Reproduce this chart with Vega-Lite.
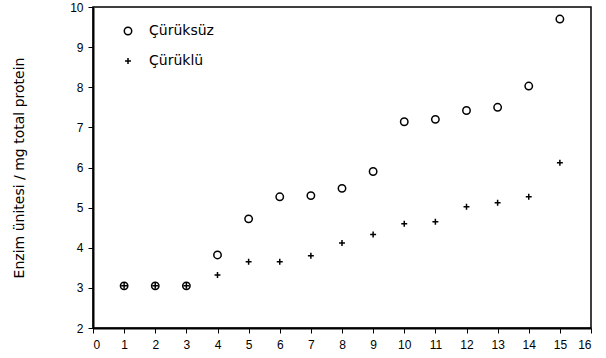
{
  "$schema": "https://vega.github.io/schema/vega-lite/v6.json",
  "width": 498,
  "height": 321,
  "autosize": {"type": "none"},
  "padding": {"left": 93, "top": 7, "right": 15, "bottom": 30},
  "background": "white",
  "config": {
    "view": {"stroke": "black", "strokeWidth": 1.5},
    "font": "Liberation Sans",
    "axis": {
      "grid": false,
      "domainColor": "black",
      "domainWidth": 2,
      "tickColor": "black",
      "tickSize": 5,
      "tickWidth": 1,
      "labelColor": "black",
      "labelFontSize": 12,
      "labelFont": "Liberation Sans",
      "titleColor": "black",
      "titleFont": "DejaVu Sans",
      "titleFontWeight": "normal"
    }
  },
  "data": {
    "values": [
      {"x": 1, "y": 3.05, "grup": "Çürüksüz"},
      {"x": 2, "y": 3.05, "grup": "Çürüksüz"},
      {"x": 3, "y": 3.05, "grup": "Çürüksüz"},
      {"x": 4, "y": 3.82, "grup": "Çürüksüz"},
      {"x": 5, "y": 4.72, "grup": "Çürüksüz"},
      {"x": 6, "y": 5.27, "grup": "Çürüksüz"},
      {"x": 7, "y": 5.3, "grup": "Çürüksüz"},
      {"x": 8, "y": 5.48, "grup": "Çürüksüz"},
      {"x": 9, "y": 5.9, "grup": "Çürüksüz"},
      {"x": 10, "y": 7.14, "grup": "Çürüksüz"},
      {"x": 11, "y": 7.2, "grup": "Çürüksüz"},
      {"x": 12, "y": 7.42, "grup": "Çürüksüz"},
      {"x": 13, "y": 7.5, "grup": "Çürüksüz"},
      {"x": 14, "y": 8.03, "grup": "Çürüksüz"},
      {"x": 15, "y": 9.7, "grup": "Çürüksüz"},
      {"x": 1, "y": 3.05, "grup": "Çürüklü"},
      {"x": 2, "y": 3.05, "grup": "Çürüklü"},
      {"x": 3, "y": 3.05, "grup": "Çürüklü"},
      {"x": 4, "y": 3.32, "grup": "Çürüklü"},
      {"x": 5, "y": 3.65, "grup": "Çürüklü"},
      {"x": 6, "y": 3.65, "grup": "Çürüklü"},
      {"x": 7, "y": 3.8, "grup": "Çürüklü"},
      {"x": 8, "y": 4.12, "grup": "Çürüklü"},
      {"x": 9, "y": 4.33, "grup": "Çürüklü"},
      {"x": 10, "y": 4.6, "grup": "Çürüklü"},
      {"x": 11, "y": 4.65, "grup": "Çürüklü"},
      {"x": 12, "y": 5.02, "grup": "Çürüklü"},
      {"x": 13, "y": 5.12, "grup": "Çürüklü"},
      {"x": 14, "y": 5.27, "grup": "Çürüklü"},
      {"x": 15, "y": 6.12, "grup": "Çürüklü"}
    ]
  },
  "mark": {"type": "point", "filled": false, "stroke": "black", "strokeWidth": 1.5, "size": 55, "opacity": 1},
  "encoding": {
    "x": {
      "field": "x", "type": "quantitative",
      "scale": {"domain": [0, 16], "nice": false},
      "axis": {"values": [0,1,2,3,4,5,6,7,8,9,10,11,12,13,14,15,16], "title": null, "labelPadding": 6}
    },
    "y": {
      "field": "y", "type": "quantitative",
      "scale": {"domain": [2, 10], "nice": false, "zero": false},
      "axis": {"values": [2,3,4,5,6,7,8,9,10], "title": "Enzim ünitesi / mg total protein", "titleFontSize": 14, "titlePadding": 43, "labelPadding": 5}
    },
    "shape": {
      "field": "grup", "type": "nominal",
      "scale": {"domain": ["Çürüksüz", "Çürüklü"], "range": ["circle", "M-0.8,0H0.8M0,-0.8V0.8"]},
      "legend": {
        "title": null,
        "orient": "none",
        "legendX": 28,
        "legendY": 17,
        "labelFontSize": 14,
        "labelFont": "DejaVu Sans",
        "labelColor": "black",
        "rowPadding": 16,
        "symbolStrokeColor": "black",
        "symbolStrokeWidth": 1.5,
        "symbolSize": 55,
        "labelOffset": 14
      }
    }
  }
}
